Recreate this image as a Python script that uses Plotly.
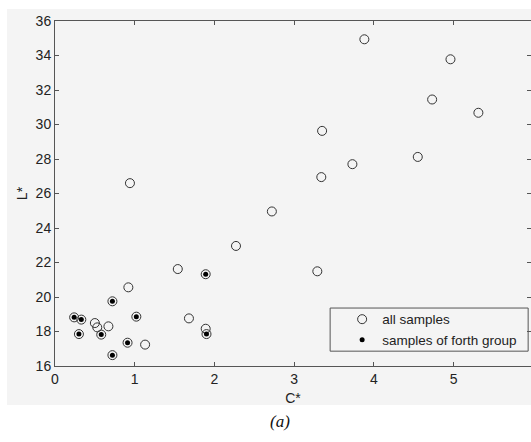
import plotly.graph_objects as go

# all samples (open circles)
all_c = [3.88, 4.96, 4.73, 5.31, 3.35, 3.73, 4.55, 3.34, 2.72, 0.94, 3.29, 2.27, 1.54, 0.92, 1.68, 1.89,
         0.50, 0.53, 0.67, 1.13,
         0.24, 0.33, 0.30, 0.58, 0.72, 0.72, 0.91, 1.02, 1.89, 1.90]
all_l = [34.94, 33.78, 31.45, 30.68, 29.63, 27.70, 28.12, 26.95, 24.96, 26.60, 21.49, 22.96, 21.62, 20.56, 18.76, 18.16,
         18.49, 18.24, 18.30, 17.24,
         18.82, 18.69, 17.85, 17.82, 19.75, 16.63, 17.35, 18.86, 21.32, 17.85]
# samples of forth group (filled dots)
grp_c = [0.24, 0.33, 0.30, 0.58, 0.72, 0.72, 0.91, 1.02, 1.89, 1.90]
grp_l = [18.82, 18.69, 17.85, 17.82, 19.75, 16.63, 17.35, 18.86, 21.32, 17.85]

x_ticks = [0, 1, 2, 3, 4, 5]
y_ticks = [16, 18, 20, 22, 24, 26, 28, 30, 32, 34, 36]

BG = "#f4f4f4"
AX = "#555555"
FONT = "Liberation Sans, Arial, sans-serif"

fig = go.Figure()
fig.add_trace(go.Scatter(
    x=all_c, y=all_l, mode="markers", name="all samples",
    marker=dict(symbol="circle-open", size=9, color="#333333", line=dict(width=1, color="#333333")),
))
fig.add_trace(go.Scatter(
    x=grp_c, y=grp_l, mode="markers", name="samples of forth group",
    marker=dict(symbol="circle", size=5, color="#000000"),
))
# empty trace so the right-hand tick axis is drawn
fig.add_trace(go.Scatter(x=[], y=[], yaxis="y2", showlegend=False, hoverinfo="skip"))

# grey scanned-page background
fig.add_shape(type="rect", xref="paper", yref="paper",
              x0=-0.101, x1=1.1, y0=-0.113, y1=1.035,
              fillcolor=BG, line=dict(width=0), layer="below")
# legend frame
fig.add_shape(type="rect", xref="paper", yref="paper",
              x0=0.578, x1=0.994, y0=0.043, y1=0.168,
              fillcolor=BG, line=dict(width=1, color=AX), layer="below")

fig.add_annotation(text="<i>(a)</i>", xref="paper", yref="paper", x=0.4727, y=-0.162,
                   xanchor="center", yanchor="middle",
                   showarrow=False, font=dict(family="Liberation Serif, Times New Roman, serif", size=17, color="#111111"))

fig.update_layout(
    width=531, height=442,
    margin=dict(l=55, r=0, t=21, b=76),
    paper_bgcolor="white", plot_bgcolor=BG,
    font=dict(family=FONT, size=14, color="#222222"),
    showlegend=True,
    legend=dict(x=0.578, y=0.18, xanchor="left", yanchor="top",
                bgcolor="rgba(0,0,0,0)", borderwidth=0,
                font=dict(size=13.5, color="#222222"), indentation=12,
                tracegroupgap=0),
    xaxis=dict(range=[0, 5.97], tickvals=x_ticks, ticks="inside", ticklen=4, tickcolor=AX,
               showline=True, linecolor=AX, linewidth=1, mirror="ticks", showgrid=False, zeroline=False,
               title=dict(text="C*", standoff=7, font=dict(size=14))),
    yaxis=dict(range=[16, 36], tickvals=y_ticks, ticks="inside", ticklen=4, tickcolor=AX,
               showline=True, linecolor=AX, linewidth=1, mirror=False, showgrid=False, zeroline=False,
               title=dict(text="L*", standoff=4, font=dict(size=14))),
    yaxis2=dict(range=[16, 36], tickvals=y_ticks, ticks="inside", ticklen=4, tickcolor=AX,
                overlaying="y", side="right", showline=False, showticklabels=False,
                showgrid=False, zeroline=False),
)

fig.write_html("out.html")
